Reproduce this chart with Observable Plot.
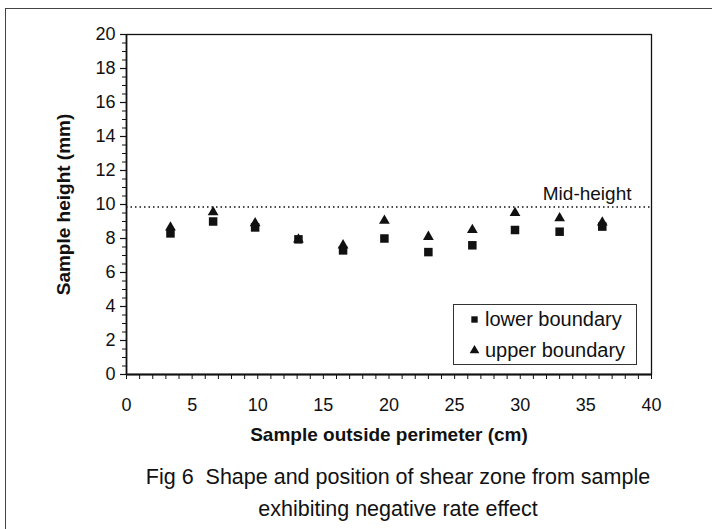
<!DOCTYPE html>
<html>
<head>
<meta charset="utf-8">
<script src="https://cdn.jsdelivr.net/npm/d3@7"></script>
<script src="https://cdn.jsdelivr.net/npm/@observablehq/plot@0.6"></script>
<style>
  html, body { margin: 0; padding: 0; background: #fff; }
  body { width: 712px; height: 529px; position: relative; overflow: hidden; font-family: "Liberation Sans", Arial, sans-serif; color: #111; }
  #outer { position: absolute; left: 5px; top: 8px; width: 720px; height: 540px; border: 1px solid #444; box-sizing: border-box; }
  #chart { position: absolute; left: 0; top: 0; }
  #legend { position: absolute; left: 453px; top: 304px; width: 184px; height: 61px; border: 1px solid #333; box-sizing: border-box; background: #fff; font-size: 20px; }
  .li { position: absolute; left: 9px; display: flex; align-items: center; height: 24px; }
  #caption { position: absolute; left: 0; width: 796px; top: 461px; text-align: center; font-size: 21.5px; line-height: 32px; }
</style>
</head>
<body>
<div id="outer"></div>
<div id="chart"></div>
<div id="legend">
  <div class="li" id="l1" style="top:2px"></div>
  <div class="li" id="l2" style="top:33px"></div>
</div>
<div id="caption">Fig 6&nbsp;&nbsp;Shape and position of shear zone from sample<br>exhibiting negative rate effect</div>
<script>
const perimeter = [3.35, 6.6, 9.8, 13.1, 16.5, 19.65, 23.0, 26.35, 29.6, 33.0, 36.25];
const lowerBoundary = [8.3, 9.0, 8.65, 7.95, 7.3, 8.0, 7.2, 7.6, 8.5, 8.4, 8.7];
const upperBoundary = [8.65, 9.55, 8.9, 7.95, 7.6, 9.05, 8.1, 8.5, 9.5, 9.2, 8.95];
const midHeight = 9.85;
const xTicks = d3.range(0, 41, 5);
const yTicks = d3.range(0, 21, 2);

const lower = perimeter.map((x, i) => ({x, y: lowerBoundary[i]}));
const upper = perimeter.map((x, i) => ({x, y: upperBoundary[i]}));
const font = "'Liberation Sans', Arial, sans-serif";

const plot = Plot.plot({
  width: 712,
  height: 460,
  marginLeft: 126,
  marginRight: 61,
  marginTop: 34,
  marginBottom: 86,
  style: {fontFamily: font, fontSize: "18px", color: "#111", background: "transparent", overflow: "visible"},
  x: {domain: [0, 40]},
  y: {domain: [0, 20]},
  marks: [
    Plot.axisX({ticks: d3.range(0, 41, 1), tickSize: 5, tickFormat: () => "", label: null, strokeWidth: 1}),
    Plot.axisX({ticks: xTicks, tickSize: 0, tickPadding: 24, fontSize: 18, label: null}),
    Plot.axisY({ticks: d3.range(0, 20.01, 0.5), tickSize: 4, tickFormat: () => "", label: null, strokeWidth: 1}),
    Plot.axisY({ticks: yTicks, tickSize: 6, tickPadding: 5, fontSize: 18, label: null, strokeWidth: 1.2}),
    Plot.frame({stroke: "#111", strokeWidth: 1.3}),
    Plot.ruleX([0], {stroke: "#111", strokeWidth: 1.6}),
    Plot.ruleY([0], {stroke: "#111", strokeWidth: 2}),
    Plot.ruleY([midHeight], {stroke: "#111", strokeWidth: 1.6, strokeDasharray: "1.5,3"}),
    Plot.text(["Mid-height"], {x: 40, y: midHeight, textAnchor: "end", dx: -20, dy: -13, fontSize: 19}),
    Plot.dot(upper, {x: "x", y: "y", symbol: "triangle", fill: "#111", r: 4}),
    Plot.dot(lower, {x: "x", y: "y", symbol: "square", fill: "#111", r: 4.8}),
    Plot.text(["Sample outside perimeter (cm)"], {frameAnchor: "bottom", dy: 66, fontWeight: "bold", fontSize: 19}),
    Plot.text(["Sample height (mm)"], {frameAnchor: "left", textAnchor: "middle", dx: -63, rotate: -90, fontWeight: "bold", fontSize: 19})
  ]
});
document.getElementById("chart").appendChild(plot);

function swatch(sym, r) {
  return Plot.plot({
    width: 22, height: 24, margin: 0, axis: null,
    x: {domain: [0, 1]}, y: {domain: [0, 1]},
    style: {background: "transparent"},
    marks: [Plot.dot([0], {x: () => 0.5, y: () => 0.5, symbol: sym, fill: "#111", r})]
  });
}
const labels = ["lower boundary", "upper boundary"];
[["l1", "square", 3.6], ["l2", "triangle", 3.6]].forEach(([id, sym, r], i) => {
  const el = document.getElementById(id);
  const s = swatch(sym, r);
  s.style.marginRight = "0px";
  el.appendChild(s);
  const t = document.createElement("span");
  t.textContent = labels[i];
  el.appendChild(t);
});
</script>
</body>
</html>
